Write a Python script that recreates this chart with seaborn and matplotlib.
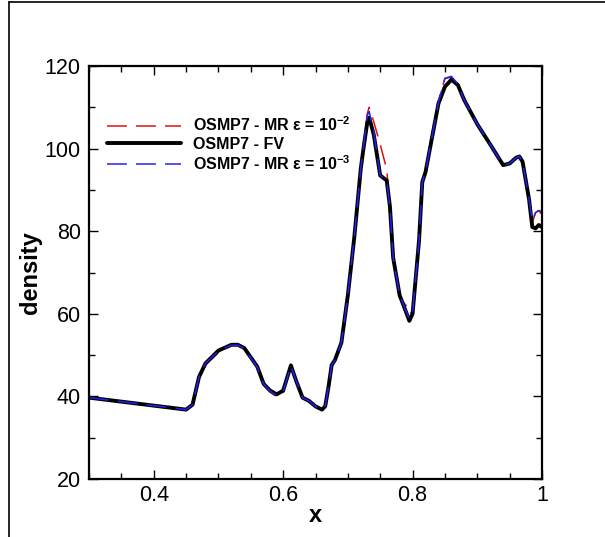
import matplotlib
matplotlib.use("Agg")
import matplotlib.pyplot as plt
from matplotlib.lines import Line2D
from matplotlib.ticker import MultipleLocator
import seaborn as sns
import pandas as pd

# ---- data ----
x = [0.30, 0.45, 0.46, 0.47, 0.48, 0.50, 0.52, 0.53, 0.54, 0.56,
     0.57, 0.58, 0.59, 0.60, 0.612, 0.62, 0.63, 0.64, 0.65, 0.66,
     0.665, 0.67, 0.675, 0.68, 0.69, 0.70, 0.71, 0.72, 0.725, 0.73,
     0.733, 0.74, 0.75, 0.76, 0.765, 0.77, 0.78, 0.79, 0.795, 0.80,
     0.81, 0.815, 0.82, 0.83, 0.84, 0.85, 0.86, 0.87, 0.88, 0.90,
     0.92, 0.94, 0.95, 0.96, 0.965, 0.97, 0.98, 0.985, 0.99, 0.995, 1.0]

fv = [39.7, 36.8, 38.0, 44.7, 48.0, 51.1, 52.5, 52.5, 51.7, 47.2,
      43.0, 41.4, 40.5, 41.4, 47.5, 43.8, 39.7, 38.9, 37.6, 36.8,
      37.6, 42.2, 47.6, 48.8, 53.0, 64.5, 78.6, 95.2, 101.0, 106.3,
      107.5, 103.4, 93.5, 92.3, 86.0, 73.6, 64.5, 60.4, 58.3, 60.0,
      77.8, 91.9, 94.3, 102.6, 110.9, 115.0, 116.7, 115.4, 111.7, 105.9,
      101.0, 96.0, 96.4, 97.8, 98.1, 96.8, 87.7, 81.0, 80.7, 81.5, 81.0]

mr_1e2 = [39.7, 36.8, 38.0, 44.5, 47.6, 50.6, 52.3, 52.4, 51.6, 47.0,
          42.8, 41.0, 39.9, 40.8, 47.8, 44.0, 39.8, 38.9, 37.6, 36.8,
          37.6, 42.0, 47.2, 48.6, 53.0, 64.5, 78.6, 95.5, 102.0, 108.5,
          110.0, 106.5, 101.0, 95.0, 86.0, 73.6, 63.8, 62.0, 60.0, 60.5,
          77.8, 91.9, 94.8, 103.5, 111.5, 117.0, 117.3, 115.6, 111.7, 105.9,
          101.0, 96.0, 96.4, 97.8, 98.1, 96.8, 87.7, 82.0, 84.5, 85.0, 84.0]

mr_1e3 = [39.7, 36.8, 38.0, 44.7, 48.0, 51.0, 52.4, 52.4, 51.6, 47.0,
          43.0, 41.2, 40.3, 41.2, 47.4, 43.8, 39.7, 38.9, 37.6, 36.8,
          37.6, 42.2, 47.6, 48.8, 53.0, 64.5, 78.6, 95.2, 101.5, 108.0,
          109.0, 104.0, 93.5, 92.3, 86.0, 73.6, 64.5, 60.6, 58.8, 60.2,
          77.8, 91.9, 94.3, 102.8, 111.2, 117.0, 117.5, 115.6, 111.7, 105.9,
          101.0, 96.0, 96.4, 97.8, 98.1, 96.8, 87.7, 82.5, 84.5, 85.0, 84.8]

labels = [r"OSMP7 - MR ε = 10$^{-2}$", "OSMP7 - FV", r"OSMP7 - MR ε = 10$^{-3}$"]
colors = ["#dd1111", "#000000", "#2222ee"]

# ---- styling ----
sns.set_style("ticks")
plt.rcParams["font.family"] = ["Liberation Sans", "DejaVu Sans"]
plt.rcParams["mathtext.fontset"] = "custom"
plt.rcParams["mathtext.rm"] = "Liberation Sans:bold"
plt.rcParams["mathtext.it"] = "Liberation Sans:bold"
plt.rcParams["mathtext.bf"] = "Liberation Sans:bold"
plt.rcParams["mathtext.default"] = "rm"
for k in ("text.color", "axes.labelcolor", "xtick.color", "ytick.color",
          "axes.edgecolor", "xtick.labelcolor", "ytick.labelcolor"):
    plt.rcParams[k] = "black"

fig = plt.figure(figsize=(6.05, 5.37), dpi=100)
ax = fig.add_axes([89 / 605, 1 - 479 / 537, (542 - 89) / 605, (479 - 66) / 537])

df1 = pd.DataFrame({"x": x, "y": mr_1e2})
df2 = pd.DataFrame({"x": x, "y": fv})
df3 = pd.DataFrame({"x": x, "y": mr_1e3})

sns.lineplot(data=df1, x="x", y="y", ax=ax, color=colors[0], lw=1.1,
             sort=False, estimator=None, label=labels[0])
sns.lineplot(data=df2, x="x", y="y", ax=ax, color=colors[1], lw=2.8,
             sort=False, estimator=None, label=labels[1])
sns.lineplot(data=df3, x="x", y="y", ax=ax, color=colors[2], lw=1.1,
             sort=False, estimator=None, label=labels[2])
for ln in (ax.lines[0], ax.lines[2]):
    ln.set_dashes((13, 6))

ax.set_xlim(0.3, 1.0)
ax.set_ylim(20, 120)
ax.xaxis.set_minor_locator(MultipleLocator(0.05))
ax.yaxis.set_major_locator(MultipleLocator(20))
ax.yaxis.set_minor_locator(MultipleLocator(10))
ax.set_xticks([0.4, 0.6, 0.8, 1.0])
ax.set_xticklabels(["0.4", "0.6", "0.8", "1"])

ax.tick_params(which="both", direction="in", top=True, right=True, width=1.0,
               color="black", labelcolor="black")
ax.tick_params(which="major", length=6.5, labelsize=15.5, pad=4)
ax.tick_params(axis="y", which="major", pad=6)
ax.tick_params(which="minor", length=4)
for sp in ax.spines.values():
    sp.set_linewidth(1.6)
    sp.set_color("black")
    sp.set_visible(True)

ax.set_xlabel("x", fontsize=17, fontweight="bold", labelpad=-1, color="black")
ax.set_ylabel("density", fontsize=17, fontweight="bold", labelpad=2, color="black")

leg = ax.legend(loc="upper left", bbox_to_anchor=(0.009, 0.915), frameon=False,
                handlelength=4.6, handletextpad=0.75, labelspacing=0.15,
                prop={"weight": "bold", "size": 11.5})

# figure frame lines (left and top)
fig.add_artist(Line2D([9 / 605, 9 / 605], [0, 1 - 2 / 537], color="black", lw=1.2,
                      transform=fig.transFigure))
fig.add_artist(Line2D([9 / 605, 1], [1 - 2 / 537, 1 - 2 / 537], color="black", lw=1.2,
                      transform=fig.transFigure))

fig.savefig("out.png", dpi=100)
